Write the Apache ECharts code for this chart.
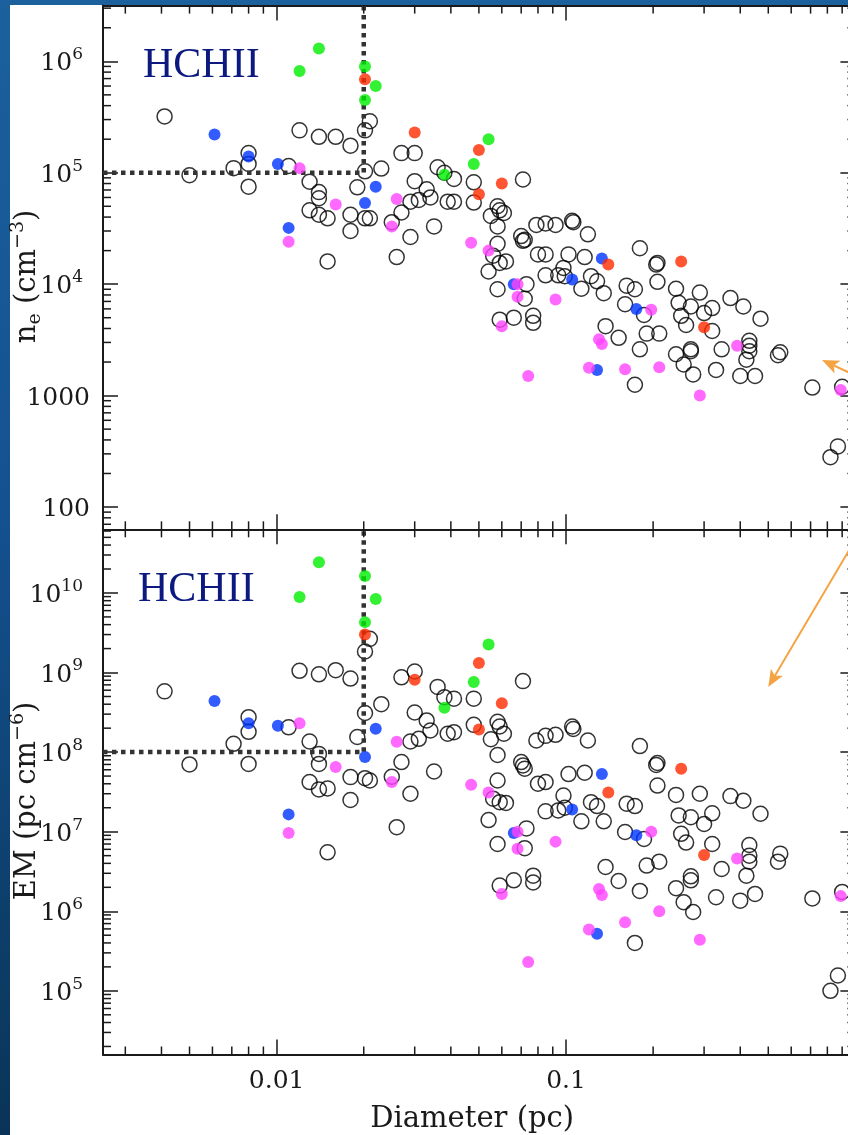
<!DOCTYPE html>
<html><head><meta charset="utf-8">
<script src="https://cdn.jsdelivr.net/npm/echarts@6/dist/echarts.min.js"></script>
<style>
html,body{margin:0;padding:0;width:848px;height:1135px;overflow:hidden;}
body{background:linear-gradient(180deg,#1c609e 0%,#145190 45%,#0d3f6b 80%,#0a3457 100%);}
#paper{position:absolute;left:10px;top:5px;width:850px;height:1130px;background:#fff;}
#chart{position:absolute;left:0;top:0;width:870px;height:1135px;}
</style></head><body><div id="paper"></div><div id="chart"></div>
<script>
// ---------- data ----------
const openD = [0.0041,0.005,0.0071,0.008,0.008,0.008,0.011,0.012,0.014,0.016,
0.018,0.0202,0.021,0.013,0.014,0.014,0.013,0.014,0.015,0.015,
0.018,0.018,0.0202,0.019,0.0202,0.021,0.023,0.025,0.027,0.026,
0.029,0.027,0.030,0.030,0.029,0.031,0.071,0.036,0.041,0.048,
0.048,0.039,0.041,0.033,0.034,0.035,0.058,0.056,0.059,0.062,
0.054,0.058,0.073,0.072,0.059,0.066,0.077,0.077,0.055,0.058,
0.061,0.058,0.070,0.072,0.079,0.085,0.092,0.105,0.106,0.119,
0.080,0.085,0.085,0.094,0.102,0.116,0.180,0.205,0.207,0.207,
0.098,0.099,0.113,0.122,0.128,0.135,0.162,0.173,0.24,0.29,
0.37,0.16,0.186,0.245,0.27,0.30,0.32,0.41,0.47,0.25,
0.26,0.32,0.137,0.152,0.19,0.21,0.18,0.24,0.27,0.27,
0.255,0.275,0.345,0.43,0.43,0.43,0.42,0.55,0.54,0.33,
0.40,0.45,0.173,0.71,0.90,0.87,0.82,0.059,0.038,0.071];
const openNe = [3.2e5,9.5e4,1.1e5,1.5e5,1.2e5,7.5e4,1.15e5,2.4e5,2.1e5,2.1e5,
1.75e5,2.4e5,2.9e5,8.3e4,6.7e4,5.9e4,4.6e4,4.2e4,3.9e4,1.6e4,
4.2e4,3e4,1.03e5,7.4e4,3.9e4,3.9e4,1.09e5,3.6e4,4.4e4,1.75e4,
2.65e4,1.5e5,1.5e5,8.4e4,5.5e4,5.7e4,8.7e4,1.12e5,8.8e4,8.2e4,
5.4e4,5.5e4,5.5e4,7.1e4,6e4,3.3e4,2.3e4,1.8e4,1.55e4,1.6e4,
1.3e4,9e3,1e4,7.4e3,4.8e3,5e3,5.2e3,4.5e3,4.1e4,5e4,
4.35e4,3.3e4,2.7e4,2.5e4,3.4e4,3.5e4,3.4e4,3.7e4,3.6e4,2.8e4,
1.85e4,1.85e4,1.2e4,1.2e4,1.85e4,1.75e4,2.1e4,1.5e4,1.55e4,1.05e4,
1.4e4,1.18e4,9.1e3,1.18e4,1.06e4,8.3e3,9.7e3,9e3,9.1e3,8.4e3,
7.5e3,6.6e3,5.3e3,6.8e3,6.3e3,5.5e3,6.1e3,6.3e3,4.9e3,5.2e3,
4.3e3,3.8e3,4.2e3,3.3e3,3.6e3,3.6e3,2.6e3,2.35e3,2.6e3,2.5e3,
1.9e3,1.55e3,2.6e3,3.1e3,2.8e3,2.5e3,2.1e3,2.45e3,2.3e3,1.7e3,
1.5e3,1.5e3,1.25e3,1.18e3,1.2e3,350,280,4.6e4,1.0e5,2.45e4];
const openEM = [5.8e8,7e7,1.27e8,2.75e8,1.8e8,7.1e7,2.05e8,1.05e9,9.5e8,1.07e9,
8.4e8,1.84e9,2.65e9,1.36e8,9.5e7,7.1e7,4.2e7,3.4e7,3.5e7,5.5e6,
4.85e7,2.5e7,3.1e8,1.55e8,4.7e7,4.4e7,4.0e8,4.9e7,7.5e7,1.14e7,
3e7,8.7e8,1.03e9,3.15e8,1.36e8,1.47e8,7.8e8,6.6e8,4.7e8,4.7e8,
2.2e8,1.7e8,1.78e8,2.5e8,1.87e8,5.7e7,4.4e7,2.6e7,2.35e7,2.3e7,
1.4e7,7e6,1.1e7,6.2e6,2.1e6,2.45e6,2.8e6,2.3e6,1.45e8,2.4e8,
1.7e8,9.2e7,7.5e7,6.2e7,1.4e8,1.6e8,1.65e8,2.1e8,1.95e8,1.4e8,
4e7,4.2e7,1.8e7,1.85e7,5.3e7,5.5e7,1.19e8,6.9e7,7.3e7,3.8e7,
2.85e7,2e7,1.35e7,2.35e7,2.1e7,1.35e7,2.25e7,2.1e7,2.9e7,3e7,
2.8e7,9.9e6,8.1e6,1.6e7,1.52e7,1.25e7,1.7e7,2.45e7,1.68e7,9.4e6,
7.3e6,7e6,3.6e6,2.4e6,3.75e6,4.2e6,1.8e6,1.95e6,2.75e6,2.45e6,
1.3e6,9.8e5,3.4e6,6.8e6,5e6,4.2e6,2.8e6,5.3e6,4.2e6,1.5e6,
1.36e6,1.65e6,4e5,1.45e6,1.75e6,1.56e5,1e5,2.1e8,4.9e8,6.8e7];

const blueD  = [0.0061,0.008,0.0101,0.011,0.0202,0.022,0.066,0.105,0.133,0.175,0.128];
const blueNe = [2.2e5,1.4e5,1.2e5,3.2e4,5.35e4,7.5e4,1e4,1.1e4,1.7e4,6e3,1.7e3];
const blueEM = [4.4e8,2.3e8,2.15e8,1.65e7,8.7e7,1.96e8,9.6e6,1.9e7,5.3e7,9e6,5.2e5];

const greenD  = [0.012,0.014,0.0202,0.022,0.0202,0.038,0.048,0.054];
const greenNe = [8.2e5,1.3e6,9e5,6e5,4.5e5,9.6e4,1.2e5,2e5];
const greenEM = [8.9e9,2.44e10,1.63e10,8.4e9,4.3e9,3.6e8,7.6e8,2.25e9];

const redD  = [0.0202,0.030,0.050,0.060,0.050,0.14,0.25,0.30];
const redNe = [6.9e5,2.3e5,1.6e5,8e4,6.4e4,1.5e4,1.6e4,4.1e3];
const redEM = [3e9,8.1e8,1.32e9,4.1e8,1.92e8,3.1e7,6.2e7,5.1e6];

const magD  = [0.012,0.011,0.016,0.026,0.025,0.047,0.054,0.068,0.068,0.060,0.074,0.092,0.130,0.133,0.12,0.16,0.197,0.21,0.39,0.29,0.89];
const magNe = [1.1e5,2.4e4,5.2e4,5.8e4,3.3e4,2.35e4,2e4,1e4,7.7e3,4.2e3,1.5e3,7.3e3,3.2e3,2.9e3,1.78e3,1.72e3,5.9e3,1.8e3,2.8e3,1e3,1.12e3];
const magEM = [2.3e8,9.6e6,6.5e7,1.35e8,4.2e7,3.9e7,3.1e7,1e7,6.1e6,1.65e6,2.3e5,7.5e6,1.9e6,1.6e6,5.9e5,7.3e5,1e7,1e6,4.6e6,4.4e5,1.55e6];

// axis ranges and ticks
const xRange  = [0.0025118864, 1];
const neRange = [63.0957344, 3162277.66];
const emRange = [15848.9319, 63095734448];
const xMinorTicks  = [0.003,0.004,0.005,0.006,0.007,0.008,0.009,0.02,0.03,0.04,0.05,0.06,0.07,0.08,0.09,0.2,0.3,0.4,0.5,0.6,0.7,0.8,0.9];
const neMinorTicks = [70,80,90,200,300,400,500,600,700,800,900,2000,3000,4000,5000,6000,7000,8000,9000,
  2e4,3e4,4e4,5e4,6e4,7e4,8e4,9e4,2e5,3e5,4e5,5e5,6e5,7e5,8e5,9e5,2e6,3e6];
const emMinorTicks = [2e4,3e4,4e4,5e4,6e4,7e4,8e4,9e4,2e5,3e5,4e5,5e5,6e5,7e5,8e5,9e5,
  2e6,3e6,4e6,5e6,6e6,7e6,8e6,9e6,2e7,3e7,4e7,5e7,6e7,7e7,8e7,9e7,2e8,3e8,4e8,5e8,6e8,7e8,8e8,9e8,
  2e9,3e9,4e9,5e9,6e9,7e9,8e9,9e9,2e10,3e10,4e10,5e10,6e10];
const xTickLabels = {'-2':'0.01','-1':'0.1'};

// HCHII boundaries and annotation arrows (data coords: tail x,y, head x,y)
const hcD = 0.02, hcNe = 1e5, hcEM = 1e8;
const arrowNe = [[1.0, 1514, 0.767, 2085]];
const arrowEM = [[1.0, 4.7e10, 0.5, 6.6e8]];
const panelLabel = 'HCHII';

// ---------- chart ----------
const FONT = 'DejaVu Serif';
const INK = '#1a1a1a';
const pts = (xs, ys) => xs.map((x, i) => [x, ys[i]]);

function yLabel(v) {
  const l = Math.log10(v), e = Math.round(l);
  if (Math.abs(l - e) > 1e-6) return '';
  if (e === 2) return '{b|100}';
  if (e === 3) return '{b|1000}';
  return '{b|10}{s|' + e + '}';
}
function xLabel(v) {
  const l = Math.log10(v), e = Math.round(l);
  if (Math.abs(l - e) > 1e-6) return '';
  return xTickLabels[String(e)] || '';
}
const labelRich = {
  b: {fontFamily: FONT, fontSize: 25, color: INK, lineHeight: 30, verticalAlign: 'bottom'},
  s: {fontFamily: FONT, fontSize: 17, color: INK, lineHeight: 17, verticalAlign: 'top', padding: [0, 7, 0, 0]}
};
const nameRich = {
  n: {fontFamily: FONT, fontSize: 29, color: INK, lineHeight: 36},
  sub: {fontFamily: FONT, fontSize: 19, color: INK, lineHeight: 19, verticalAlign: 'bottom'},
  sup: {fontFamily: FONT, fontSize: 19, color: INK, lineHeight: 19, verticalAlign: 'top'}
};

function baseAxis(extra) {
  return Object.assign({
    type: 'log', logBase: 10,
    axisLine: {show: true, onZero: false, lineStyle: {color: INK, width: 2}},
    axisTick: {show: true, inside: true, length: 15, lineStyle: {color: INK, width: 1.5}},
    axisLabel: {show: false},
    splitLine: {show: false}, minorTick: {show: false}, minorSplitLine: {show: false}
  }, extra);
}

const xAxes = [
  baseAxis({gridIndex: 0, position: 'bottom', min: xRange[0], max: xRange[1]}),
  baseAxis({gridIndex: 0, position: 'top', min: xRange[0], max: xRange[1]}),
  baseAxis({gridIndex: 1, position: 'bottom', min: xRange[0], max: xRange[1],
    axisLabel: {show: true, formatter: xLabel, fontFamily: FONT, fontSize: 25, color: INK, margin: 14,
      showMinLabel: false, showMaxLabel: false},
    name: 'Diameter (pc)', nameLocation: 'middle', nameGap: 50, nameMoveOverlap: false,
    nameTextStyle: {fontFamily: FONT, fontSize: 29, color: INK, padding: [0, 14, 0, 0]}}),
  baseAxis({gridIndex: 1, position: 'top', min: xRange[0], max: xRange[1]})
];
const yAxes = [
  baseAxis({gridIndex: 0, position: 'left', min: neRange[0], max: neRange[1],
    axisLabel: {show: true, formatter: yLabel, rich: labelRich, margin: 13, showMinLabel: false, showMaxLabel: false},
    name: '{n|n}{sub|e}{n| (cm}{sup|−3}{n|)}', nameLocation: 'middle', nameGap: 58, nameRotate: 90,
    nameMoveOverlap: false,
    nameTextStyle: {rich: nameRich, padding: [0, 18, 0, 0]}}),
  baseAxis({gridIndex: 0, position: 'right', min: neRange[0], max: neRange[1]}),
  baseAxis({gridIndex: 1, position: 'left', min: emRange[0], max: emRange[1],
    axisLabel: {show: true, formatter: yLabel, rich: labelRich, margin: 13, showMinLabel: false, showMaxLabel: false},
    name: '{n|EM (pc cm}{sup|−6}{n|)}', nameLocation: 'middle', nameGap: 58, nameRotate: 90,
    nameMoveOverlap: false,
    nameTextStyle: {rich: nameRich, padding: [0, 18, 0, 0]}}),
  baseAxis({gridIndex: 1, position: 'right', min: emRange[0], max: emRange[1]})
];

function openSeries(g, data) {
  return {type: 'scatter', xAxisIndex: 2 * g, yAxisIndex: 2 * g, data, symbol: 'circle', symbolSize: 15,
    itemStyle: {color: 'rgba(0,0,0,0)', borderColor: '#000', borderWidth: 1.5}, z: 2, silent: true};
}
function dotSeries(g, data, color, z) {
  return {type: 'scatter', xAxisIndex: 2 * g, yAxisIndex: 2 * g, data, symbol: 'circle', symbolSize: 12,
    itemStyle: {color, borderWidth: 0}, z, silent: true};
}
function boxLine(g, yVal, yTop) {
  return {type: 'line', xAxisIndex: 2 * g, yAxisIndex: 2 * g, symbol: 'none', silent: true, z: 3,
    data: [[xRange[0], yVal], [hcD, yVal], [hcD, yTop]],
    lineStyle: {color: '#333333', width: 4.5, type: [4.5, 4.5], cap: 'butt'}};
}
function minorX(g, yRef) {
  return {type: 'custom', xAxisIndex: 2 * g, yAxisIndex: 2 * g, silent: true, z: 10,
    data: xMinorTicks.map(v => [v, yRef]),
    renderItem(params, api) {
      const p = api.coord([api.value(0), api.value(1)]);
      const cs = params.coordSys, L = 8, st = {stroke: INK, lineWidth: 1.5};
      return {type: 'group', children: [
        {type: 'line', shape: {x1: p[0], y1: cs.y, x2: p[0], y2: cs.y + L}, style: st},
        {type: 'line', shape: {x1: p[0], y1: cs.y + cs.height, x2: p[0], y2: cs.y + cs.height - L}, style: st}
      ]};
    }};
}
function minorY(g, ticks) {
  return {type: 'custom', xAxisIndex: 2 * g, yAxisIndex: 2 * g, silent: true, z: 10,
    data: ticks.map(v => [0.1, v]),
    renderItem(params, api) {
      const p = api.coord([api.value(0), api.value(1)]);
      const cs = params.coordSys, L = 8, st = {stroke: INK, lineWidth: 1.5};
      return {type: 'group', children: [
        {type: 'line', shape: {x1: cs.x, y1: p[1], x2: cs.x + L, y2: p[1]}, style: st},
        {type: 'line', shape: {x1: cs.x + cs.width, y1: p[1], x2: cs.x + cs.width - L, y2: p[1]}, style: st}
      ]};
    }};
}
function arrow(g, data) {
  return {type: 'custom', xAxisIndex: 2 * g, yAxisIndex: 2 * g, silent: true, z: 12, clip: false,
    encode: {x: [0, 2], y: [1, 3]}, data,
    renderItem(params, api) {
      const a = api.coord([api.value(0), api.value(1)]);
      const b = api.coord([api.value(2), api.value(3)]);
      const ang = Math.atan2(b[1] - a[1], b[0] - a[0]);
      const L = 17, W = 7, c = Math.cos(ang), s = Math.sin(ang);
      const base = [b[0] - L * c, b[1] - L * s];
      const notch = [b[0] - (L - 4) * c, b[1] - (L - 4) * s];
      const col = '#f5a444';
      return {type: 'group', children: [
        {type: 'line', shape: {x1: a[0], y1: a[1], x2: notch[0], y2: notch[1]}, style: {stroke: col, lineWidth: 2}},
        {type: 'polygon', shape: {points: [b, [base[0] + W * s, base[1] - W * c], notch, [base[0] - W * s, base[1] + W * c]]},
          style: {fill: col}}
      ]};
    }};
}

const GREEN = '#00ee00', RED = '#ff2a00', BLUE = '#0033ff', MAG = '#ff44ff';
const series = [
  openSeries(0, pts(openD, openNe)),
  boxLine(0, hcNe, neRange[1]),
  dotSeries(0, pts(blueD, blueNe), BLUE, 4),
  dotSeries(0, pts(greenD, greenNe), GREEN, 5),
  dotSeries(0, pts(redD, redNe), RED, 6),
  dotSeries(0, pts(magD, magNe), MAG, 7),
  minorX(0, 1000), minorY(0, neMinorTicks), arrow(0, arrowNe),
  openSeries(1, pts(openD, openEM)),
  boxLine(1, hcEM, emRange[1]),
  dotSeries(1, pts(blueD, blueEM), BLUE, 4),
  dotSeries(1, pts(greenD, greenEM), GREEN, 5),
  dotSeries(1, pts(redD, redEM), RED, 6),
  dotSeries(1, pts(magD, magEM), MAG, 7),
  minorX(1, 1e6), minorY(1, emMinorTicks), arrow(1, arrowEM)
];

const chart = echarts.init(document.getElementById('chart'), null, {renderer: 'canvas'});
chart.setOption({
  animation: false,
  backgroundColor: 'transparent',
  grid: [
    {left: 103, top: 5.6, width: 752.4, height: 523.7, containLabel: false, outerBoundsMode: 'none'},
    {left: 103, top: 529.3, width: 752.4, height: 525.2, containLabel: false, outerBoundsMode: 'none'}
  ],
  xAxis: xAxes,
  yAxis: yAxes,
  graphic: [
    {type: 'text', left: 143, top: 45, z: 20, silent: true,
      style: {text: panelLabel, font: '42px "Liberation Serif"', fill: '#0c1a80'}},
    {type: 'text', left: 138, top: 569, z: 20, silent: true,
      style: {text: panelLabel, font: '42px "Liberation Serif"', fill: '#0c1a80'}}
  ],
  series
});
</script></body></html>
